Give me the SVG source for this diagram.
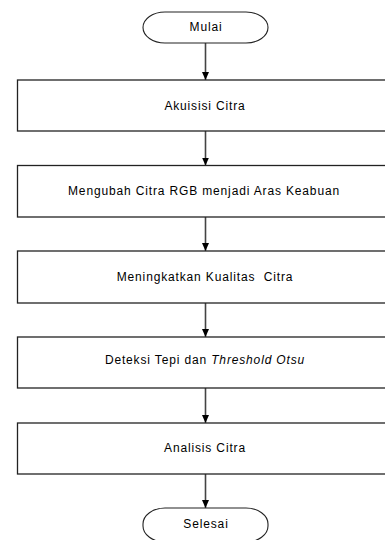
<svg xmlns="http://www.w3.org/2000/svg" width="385" height="540" viewBox="0 0 385 540">
<style>
.box{fill:#fff;stroke:#222;stroke-width:1.3}
.term{fill:#fff;stroke:#222;stroke-width:1.1}
.lbl{font-family:"Liberation Sans",Arial,sans-serif;font-size:12px;letter-spacing:0.85px;fill:#000;text-anchor:middle}
.con{stroke:#444;stroke-width:1.6;fill:none}
</style>
<defs>
<marker id="arr" markerWidth="8" markerHeight="7" refX="8" refY="3.5" orient="auto" markerUnits="userSpaceOnUse">
<path d="M0,0 L8,3.5 L0,7 Z" fill="#000"/>
</marker>
</defs>
<rect width="385" height="540" fill="#fff"/>
<g id="connectors">
<line class="con" x1="205.5" y1="43" x2="205.5" y2="80" marker-end="url(#arr)"/>
<line class="con" x1="205.5" y1="131" x2="205.5" y2="165.5" marker-end="url(#arr)"/>
<line class="con" x1="205.5" y1="217" x2="205.5" y2="251" marker-end="url(#arr)"/>
<line class="con" x1="205.5" y1="303" x2="205.5" y2="337" marker-end="url(#arr)"/>
<line class="con" x1="205.5" y1="388" x2="205.5" y2="423" marker-end="url(#arr)"/>
<line class="con" x1="205.5" y1="474" x2="205.5" y2="508" marker-end="url(#arr)"/>
</g>
<g id="mulai">
<rect class="term" x="143" y="12" width="125" height="31" rx="22" ry="15.5"/>
<text class="lbl" x="206" y="31">Mulai</text>
</g>
<g id="akuisisi">
<rect class="box" x="17.5" y="80" width="400" height="51"/>
<text class="lbl" x="205" y="110">Akuisisi Citra</text>
</g>
<g id="mengubah">
<rect class="box" x="17.5" y="165.5" width="400" height="51.5"/>
<text class="lbl" x="204" y="195">Mengubah Citra RGB menjadi Aras Keabuan</text>
</g>
<g id="meningkatkan">
<rect class="box" x="17.5" y="251" width="400" height="52"/>
<text class="lbl" x="205" y="281" xml:space="preserve">Meningkatkan Kualitas  Citra</text>
</g>
<g id="deteksi">
<rect class="box" x="17.5" y="337" width="400" height="51"/>
<text class="lbl" x="205" y="364" xml:space="preserve">Deteksi Tepi dan <tspan font-style="italic">Threshold Otsu</tspan></text>
</g>
<g id="analisis">
<rect class="box" x="17.5" y="423" width="400" height="51"/>
<text class="lbl" x="205" y="452">Analisis Citra</text>
</g>
<g id="selesai">
<rect class="term" x="143" y="508" width="125" height="34" rx="22" ry="16"/>
<text class="lbl" x="206" y="528">Selesai</text>
</g>
</svg>
